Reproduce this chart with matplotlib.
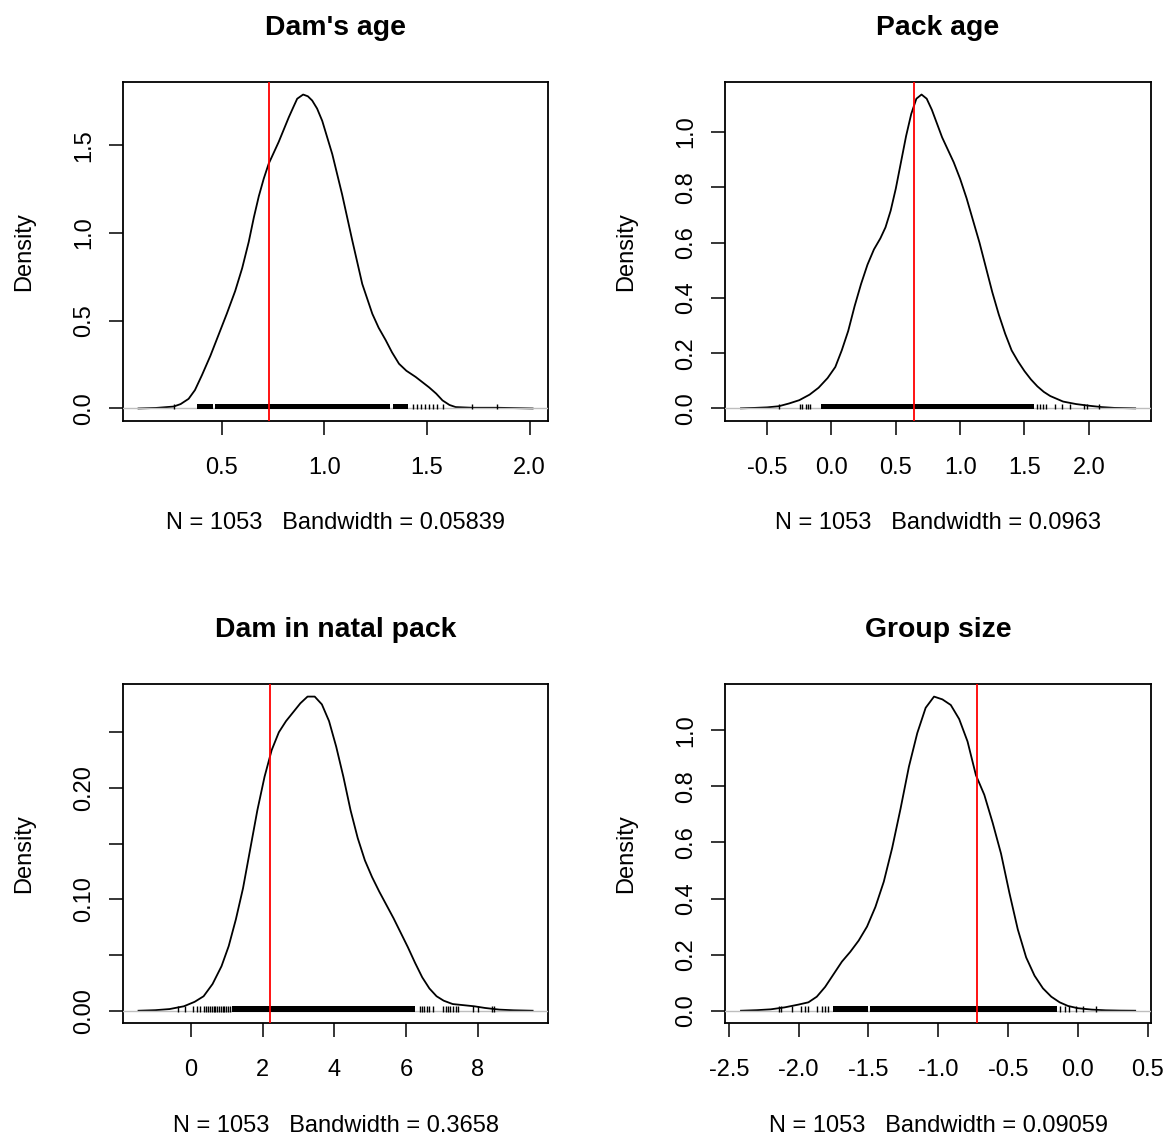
import matplotlib
matplotlib.use("Agg")
import matplotlib.pyplot as plt
import matplotlib.transforms as mtransforms

plt.rcParams['font.family'] = ['Liberation Sans', 'DejaVu Sans']

# ---- density curves (x, y) ----
dam_age_x = [0.095, 0.18, 0.266, 0.30, 0.339, 0.37, 0.404, 0.445, 0.485, 0.525, 0.566, 0.60, 0.632, 0.657,
             0.681, 0.705, 0.729, 0.778, 0.827, 0.850, 0.868, 0.897, 0.920, 0.941, 0.965, 0.990, 1.039,
             1.087, 1.136, 1.185, 1.234, 1.265, 1.299, 1.33, 1.364, 1.40, 1.445, 1.511, 1.545, 1.576,
             1.61, 1.64, 1.722, 1.844, 1.93, 2.015]
dam_age_y = [0.0, 0.003, 0.011, 0.025, 0.055, 0.105, 0.19, 0.30, 0.42, 0.54, 0.67, 0.80, 0.95, 1.09,
             1.21, 1.31, 1.395, 1.52, 1.66, 1.72, 1.766, 1.79, 1.78, 1.756, 1.71, 1.64, 1.45,
             1.22, 0.96, 0.71, 0.54, 0.46, 0.39, 0.32, 0.255, 0.215, 0.18, 0.12, 0.085, 0.046,
             0.02, 0.008, 0.004, 0.004, 0.002, 0.0]

pack_age_x = [-0.703, -0.6, -0.5, -0.41, -0.33, -0.25, -0.17, -0.10, -0.03, 0.03, 0.08, 0.13, 0.18, 0.23,
              0.28, 0.33, 0.38, 0.42, 0.46, 0.50, 0.54, 0.58, 0.62, 0.66, 0.70, 0.74, 0.78, 0.82, 0.86,
              0.90, 0.95, 1.00, 1.05, 1.10, 1.15, 1.20, 1.25, 1.30, 1.35, 1.40, 1.45, 1.50, 1.55, 1.60,
              1.65, 1.70, 1.75, 1.80, 1.90, 2.0, 2.1, 2.2, 2.36]
pack_age_y = [0.0005, 0.002, 0.004, 0.008, 0.018, 0.03, 0.05, 0.075, 0.11, 0.15, 0.21, 0.28, 0.37, 0.45,
              0.52, 0.575, 0.615, 0.655, 0.715, 0.795, 0.89, 0.985, 1.065, 1.12, 1.135, 1.12, 1.08, 1.03,
              0.98, 0.94, 0.89, 0.83, 0.76, 0.68, 0.60, 0.51, 0.42, 0.34, 0.27, 0.21, 0.17, 0.135, 0.105,
              0.08, 0.06, 0.045, 0.035, 0.025, 0.016, 0.01, 0.005, 0.002, 0.0005]

natal_x = [-1.466, -1.0, -0.6, -0.2, 0.1, 0.35, 0.6, 0.85, 1.05, 1.25, 1.45, 1.65, 1.85, 2.05, 2.25, 2.45,
           2.65, 2.85, 3.05, 3.25, 3.45, 3.65, 3.85, 4.05, 4.25, 4.45, 4.65, 4.85, 5.05, 5.25, 5.45, 5.65,
           5.85, 6.05, 6.25, 6.45, 6.65, 6.85, 7.05, 7.3, 7.6, 7.9, 8.2, 8.6, 9.0, 9.53]
natal_y = [0.0, 0.0005, 0.0015, 0.004, 0.008, 0.013, 0.024, 0.04, 0.058, 0.082, 0.11, 0.145, 0.18, 0.21,
           0.234, 0.25, 0.26, 0.268, 0.276, 0.282, 0.282, 0.275, 0.26, 0.237, 0.21, 0.18, 0.155, 0.135,
           0.12, 0.107, 0.095, 0.083, 0.07, 0.057, 0.043, 0.03, 0.02, 0.013, 0.009, 0.006, 0.005, 0.004,
           0.0025, 0.001, 0.0004, 0.0]

group_x = [-2.413, -2.3, -2.2, -2.1, -2.0, -1.93, -1.87, -1.81, -1.75, -1.69, -1.63, -1.57, -1.51, -1.45,
           -1.39, -1.33, -1.27, -1.21, -1.15, -1.09, -1.03, -0.97, -0.91, -0.85, -0.79, -0.73, -0.67,
           -0.61, -0.55, -0.49, -0.43, -0.37, -0.31, -0.25, -0.19, -0.13, -0.07, 0.0, 0.1, 0.2, 0.3, 0.411]
group_y = [0.0, 0.002, 0.005, 0.012, 0.022, 0.03, 0.05, 0.085, 0.13, 0.175, 0.21, 0.25, 0.30, 0.37,
           0.46, 0.58, 0.72, 0.87, 0.99, 1.08, 1.12, 1.11, 1.09, 1.04, 0.96, 0.84, 0.77,
           0.67, 0.56, 0.42, 0.29, 0.19, 0.125, 0.08, 0.05, 0.03, 0.017, 0.009, 0.004, 0.0015, 0.0005, 0.0]

# ---- rug: single ticks and spans that print as a solid band ----
dam_age_rug = [0.267, 1.43, 1.45, 1.47, 1.49, 1.51, 1.53, 1.55, 1.58, 1.721, 1.843]
dam_age_bands = [(0.378, 0.46), (0.47, 1.32), (1.335, 1.41)]
pack_age_rug = [-0.41, -0.245, -0.225, -0.20, -0.18, -0.165, 1.60, 1.62, 1.64, 1.67, 1.74, 1.79,
                1.855, 1.96, 1.985, 2.075]
pack_age_bands = [(-0.08, 1.57)]
natal_rug = [-0.37, -0.17, 0.05, 0.16, 0.25, 0.36, 0.42, 0.48, 0.53, 0.58, 0.63, 0.68, 0.73, 0.78,
             0.83, 0.88, 0.93, 0.98, 1.03, 1.08, 6.39, 6.45, 6.5, 6.58, 6.65, 6.76, 7.04, 7.1, 7.16,
             7.22, 7.3, 7.38, 7.46, 7.88, 8.02, 8.39, 8.44]
natal_bands = [(1.13, 6.25)]
group_rug = [-2.142, -2.123, -2.05, -1.98, -1.956, -1.932, -1.868, -1.83, -1.81, -1.79, -0.13,
             -0.09, -0.061, -0.013, 0.034, 0.13]
group_bands = [(-1.754, -1.50), (-1.49, -0.15)]

# observed values (red lines)
dam_age_obs = 0.732
pack_age_obs = 0.64
natal_obs = 2.204
group_obs = -0.724

titles = ["Dam's age", "Pack age", "Dam in natal pack", "Group size"]
bandwidths = ["0.05839", "0.0963", "0.3658", "0.09059"]
n_obs = 1053

xticks = [[0.5, 1.0, 1.5, 2.0],
          [-0.5, 0.0, 0.5, 1.0, 1.5, 2.0],
          [0, 2, 4, 6, 8],
          [-2.5, -2.0, -1.5, -1.0, -0.5, 0.0, 0.5]]
xticklabels = [["0.5", "1.0", "1.5", "2.0"],
               ["-0.5", "0.0", "0.5", "1.0", "1.5", "2.0"],
               ["0", "2", "4", "6", "8"],
               ["-2.5", "-2.0", "-1.5", "-1.0", "-0.5", "0.0", "0.5"]]
yticks = [[0.0, 0.5, 1.0, 1.5],
          [0.0, 0.2, 0.4, 0.6, 0.8, 1.0],
          [0.00, 0.05, 0.10, 0.15, 0.20, 0.25],
          [0.0, 0.2, 0.4, 0.6, 0.8, 1.0]]
yticklabels = [["0.0", "0.5", "1.0", "1.5"],
               ["0.0", "0.2", "0.4", "0.6", "0.8", "1.0"],
               ["0.00", "", "0.10", "", "0.20", ""],
               ["0.0", "0.2", "0.4", "0.6", "0.8", "1.0"]]

curves = [(dam_age_x, dam_age_y), (pack_age_x, pack_age_y), (natal_x, natal_y), (group_x, group_y)]
rugs = [(dam_age_rug, dam_age_bands), (pack_age_rug, pack_age_bands),
        (natal_rug, natal_bands), (group_rug, group_bands)]
observed = [dam_age_obs, pack_age_obs, natal_obs, group_obs]

FS = 17
fig = plt.figure(figsize=(11.68, 11.37), dpi=100)
axes_pos = [[0.1051, 0.6297, 0.3644, 0.2982], [0.6209, 0.6297, 0.3645, 0.2982],
            [0.1051, 0.1000, 0.3644, 0.2984], [0.6209, 0.1000, 0.3645, 0.2984]]


def r_range(lo, hi):
    pad = 0.04 * (hi - lo)
    return lo - pad, hi + pad


for i in range(4):
    ax = fig.add_axes(axes_pos[i])
    x, y = curves[i]
    ax.plot(x, y, color="black", lw=1.3, zorder=2, solid_joinstyle="round")
    ax.set_xlim(*r_range(min(x), max(x)))
    ax.set_ylim(*r_range(0, max(y)))
    ax.axhline(0, color="#bebebe", lw=1.0, zorder=3)

    # rug ticks sit on the zero line
    y0 = 0.04 / 1.08
    trans = mtransforms.blended_transform_factory(ax.transData, ax.transAxes)
    ticks, bands = rugs[i]
    ax.vlines(ticks, y0 - 0.003, y0 + 0.014, color="black", lw=1.0, transform=trans, zorder=4)
    for lo, hi in bands:
        ax.fill_between([lo, hi], y0 - 0.003, y0 + 0.014, color="black", lw=0, transform=trans, zorder=4)

    ax.axvline(observed[i], color="red", lw=1.3, zorder=5)

    ax.set_xticks(xticks[i])
    ax.set_xticklabels(xticklabels[i])
    ax.set_yticks(yticks[i])
    ax.set_yticklabels(yticklabels[i], rotation=90, va="center")
    ax.tick_params(labelsize=FS, length=10, width=1.1, pad=16)
    ax.tick_params(axis="y", pad=10)
    for s in ax.spines.values():
        s.set_linewidth(1.3)

    ax.text(0.5, 1.16, titles[i], transform=ax.transAxes, ha="center", va="center",
            fontsize=20.4, fontweight="bold")
    ax.text(-0.232, 0.5, "Density", transform=ax.transAxes, ha="center", va="center",
            rotation=90, fontsize=FS)
    ax.text(0.5, -0.302, "N = %d   Bandwidth = %s" % (n_obs, bandwidths[i]),
            transform=ax.transAxes, ha="center", va="center", fontsize=FS)

fig.savefig("out.png", dpi=100)
